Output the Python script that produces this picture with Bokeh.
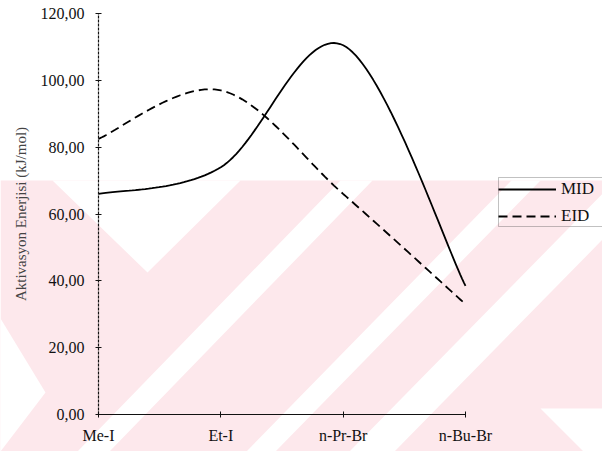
import numpy as np
from bokeh.plotting import figure
from bokeh.models import Legend, LegendItem, FixedTicker, Range1d, PolyAnnotation
from bokeh.embed import file_html
from bokeh.resources import INLINE

# Activation energies (kJ/mol) per alkyl halide
compounds = ["Me-I", "Et-I", "n-Pr-Br", "n-Bu-Br"]
mid_values = [66.0, 74.0, 110.5, 38.5]
eid_values = [82.5, 97.0, 66.0, 33.0]
y_ticks = [0, 20, 40, 60, 80, 100, 120]

W, H = 602, 451
SERIF = "Liberation Serif"

# pixel box of the axes area inside the canvas
AX_LEFT, AX_RIGHT, AX_TOP, AX_BOTTOM = 98, 465, 13, 414
# legend frame (left, top, bottom); it runs off the right edge
LEG_LEFT, LEG_TOP, LEG_BOTTOM = 498, 177, 226


def smooth(xs, ys, steps=40):
    """Smoothed line through the points (cubic Bezier, Catmull-Rom tangents)."""
    pts = np.column_stack([xs, ys]).astype(float)
    padded = np.vstack([pts[0], pts, pts[-1]])
    t = np.linspace(0, 1, steps + 1)[1:, None]
    out = [pts[0]]
    for i in range(len(pts) - 1):
        p0, p1, p2, p3 = padded[i], padded[i + 1], padded[i + 2], padded[i + 3]
        c1 = p1 + (p2 - p0) / 6.0
        c2 = p2 - (p3 - p1) / 6.0
        seg = (1 - t) ** 3 * p1 + 3 * (1 - t) ** 2 * t * c1 + 3 * (1 - t) * t ** 2 * c2 + t ** 3 * p2
        out.extend(seg)
    out = np.array(out)
    return out[:, 0], out[:, 1]


x_pos = list(range(len(compounds)))
x_max = len(compounds) - 1
y_max = y_ticks[-1]

# the frame fills the whole canvas; ranges are widened so that the data box
# sits at the pixel box above, axes are pinned at x=0 / y=0
ux = x_max / (AX_RIGHT - AX_LEFT)
uy = y_max / (AX_BOTTOM - AX_TOP)
x_range = Range1d(-AX_LEFT * ux, x_max + (W - AX_RIGHT) * ux)
y_range = Range1d(-(H - AX_BOTTOM) * uy, y_max + AX_TOP * uy)

p = figure(width=W, height=H, output_backend="svg", toolbar_location=None,
           x_range=x_range, y_range=y_range,
           min_border_left=0, min_border_right=0, min_border_top=0, min_border_bottom=0)
p.outline_line_color = None
p.grid.visible = False
p.background_fill_color = "white"
p.border_fill_color = "white"

# light pink stamp in the background (canvas pixels, top-left origin)
pink = "#fde8ec"
stamp = [
    ([0, W, W, 0], [180, 180, H, H], pink),
    ([52, 240, 147], [180, 180, 272], "white"),
    ([0, 45, 0], [318, 392, H], "white"),
    ([77, 109, 372, 340], [H, H, 180, 180], "white"),
    ([246, 275, 540, 511], [H, H, 180, 180], "white"),
    ([349, 394, 660, 615], [H, H, 180, 180], "white"),
    ([540, W, W], [408, 408, 470], "white"),
]
for xs, ys, col in stamp:
    p.add_layout(PolyAnnotation(xs=xs, ys=ys, xs_units="canvas", ys_units="canvas",
                                fill_color=col, fill_alpha=1.0, line_color=None, level="underlay"))

mx, my = smooth(x_pos, mid_values)
ex, ey = smooth(x_pos, eid_values)
r_mid = p.line(mx, my, line_color="black", line_width=1.8)
r_eid = p.line(ex, ey, line_color="black", line_width=1.8, line_dash="9 5")

# axes
xa = p.xaxis[0]
xa.fixed_location = 0
xa.bounds = (0, x_max)
xa.ticker = FixedTicker(ticks=x_pos)
xa.major_label_overrides = {i: c for i, c in enumerate(compounds)}
xa.major_label_standoff = 9
ya = p.yaxis[0]
ya.fixed_location = 0
ya.bounds = (0, y_max)
ya.ticker = FixedTicker(ticks=y_ticks)
ya.major_label_overrides = {v: f"{v:.2f}".replace(".", ",") for v in y_ticks}
ya.axis_label = "Aktivasyon Enerjisi (kJ/mol)"
ya.axis_label_text_font = SERIF
ya.axis_label_text_font_size = "15px"
ya.axis_label_text_font_style = "normal"
ya.axis_label_standoff = 9
ya.axis_line_dash = "3 1"
ya.major_label_standoff = 11
for ax in (xa, ya):
    ax.axis_line_color = "#111111"
    ax.axis_line_width = 1.2
    ax.major_tick_in = 3
    ax.major_tick_out = 3
    ax.major_tick_line_color = "#111111"
    ax.minor_tick_line_color = None
    ax.major_label_text_font = SERIF
    ax.major_label_text_font_size = "16px"
    ax.major_label_text_color = "#111111"

legend = Legend(items=[LegendItem(label="MID", renderers=[r_mid]),
                       LegendItem(label="EID", renderers=[r_eid])],
                location=(LEG_LEFT, H - LEG_BOTTOM), orientation="vertical",
                glyph_width=58, glyph_height=16, label_height=16,
                label_standoff=5, spacing=7, padding=5, margin=0,
                label_text_font=SERIF, label_text_font_size="17px", label_text_color="#111111",
                border_line_color=None, background_fill_alpha=0)
p.add_layout(legend, "center")
# legend frame, open on the right where it leaves the canvas
p.add_layout(PolyAnnotation(xs=[W + 5, LEG_LEFT, LEG_LEFT, W + 5],
                            ys=[LEG_TOP, LEG_TOP, LEG_BOTTOM, LEG_BOTTOM],
                            xs_units="canvas", ys_units="canvas",
                            fill_alpha=0, line_color="#333333", line_width=1))

open("out.html", "w").write(file_html(p, INLINE))
